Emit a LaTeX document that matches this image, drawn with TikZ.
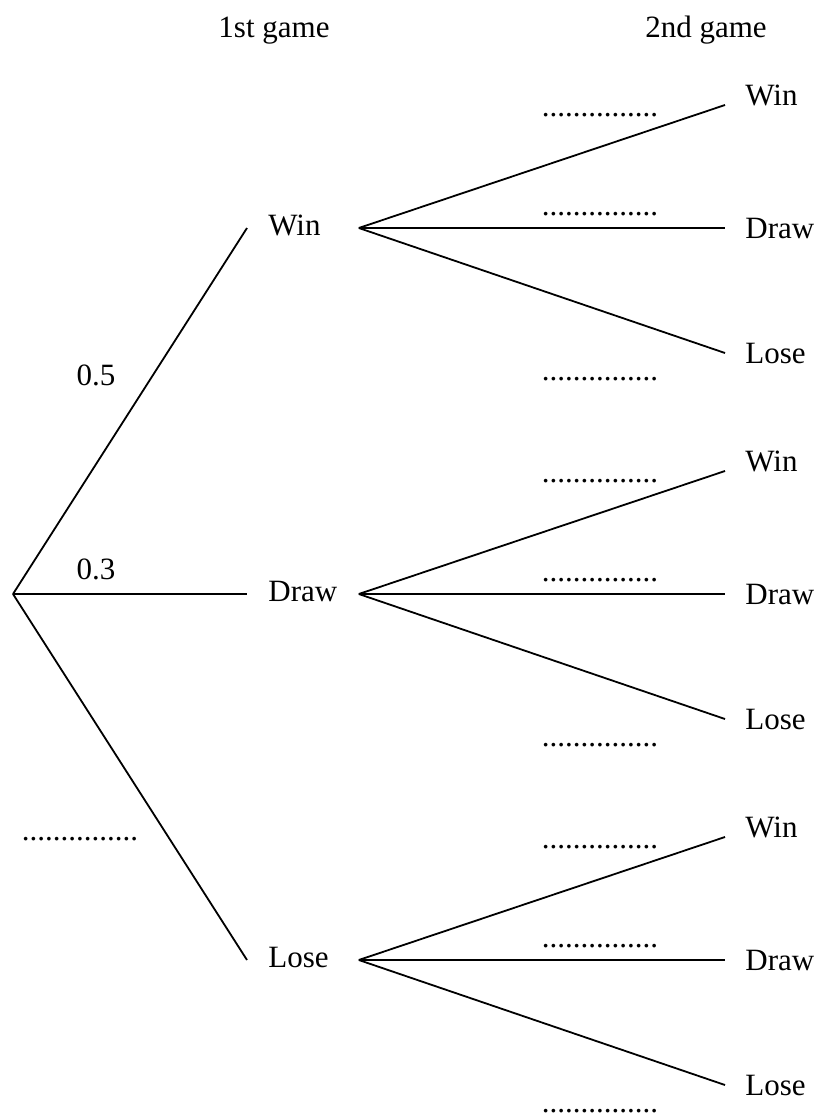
\documentclass[tikz,border=0pt]{standalone}
\usepackage{fontspec}
\setmainfont{Liberation Serif}
\usetikzlibrary{positioning}

\begin{document}
\begin{tikzpicture}[
  x=0.5pt, y=-0.5pt,
  every node/.style={font=\fontsize{15.5}{18}\selectfont},
  branch/.style={line width=0.9pt},
  first/.style={anchor=west, inner xsep=10.5pt, inner ysep=0pt, text width=34.5pt, align=left, text height=0.7em, text depth=0pt},
  leaf/.style={anchor=west, inner xsep=10pt, inner ysep=0pt, text height=0.7em, text depth=0pt},
  lab/.style={anchor=base, inner sep=0pt},
  blank/.style={anchor=base, inner sep=0pt}
]
  \useasboundingbox (0,0) rectangle (818,1120);

  % column headings
  \node[lab] (h1) at (274,37) {1st game};
  \node[lab] (h2) at (706,37) {2nd game};

  % first game
  \coordinate (root) at (13,594);
  \foreach \res/\txt/\yc in {W/Win/228, D/Draw/594, L/Lose/960}{
    \node[first] (f\res) at (247,\yc) {\txt};
    \draw[branch] (root) -- (f\res.west);
    % second game
    \foreach \sres/\stxt/\dy/\sh in {W/Win/-130/-3.5pt, D/Draw/3/1.5pt, L/Lose/128/1.5pt}{
      \node[leaf] (s\res\sres) at (725,{\yc+(\dy)}) {\stxt};
      \draw[branch] (f\res.east) -- ([yshift=\sh]s\res\sres.west);
    }
    % blanks for the second game
    \foreach \dy [count=\i] in {-112,-13,152}
      \node[blank] (b\res\i) at (600,{\yc+(\dy)}) {...............};
  }

  % probabilities of the first game
  \node[lab] (p1) at (96,385) {0.5};
  \node[lab] (p2) at (96,579) {0.3};
  \node[blank] (p3) at (80,840) {...............};

\end{tikzpicture}
\end{document}
